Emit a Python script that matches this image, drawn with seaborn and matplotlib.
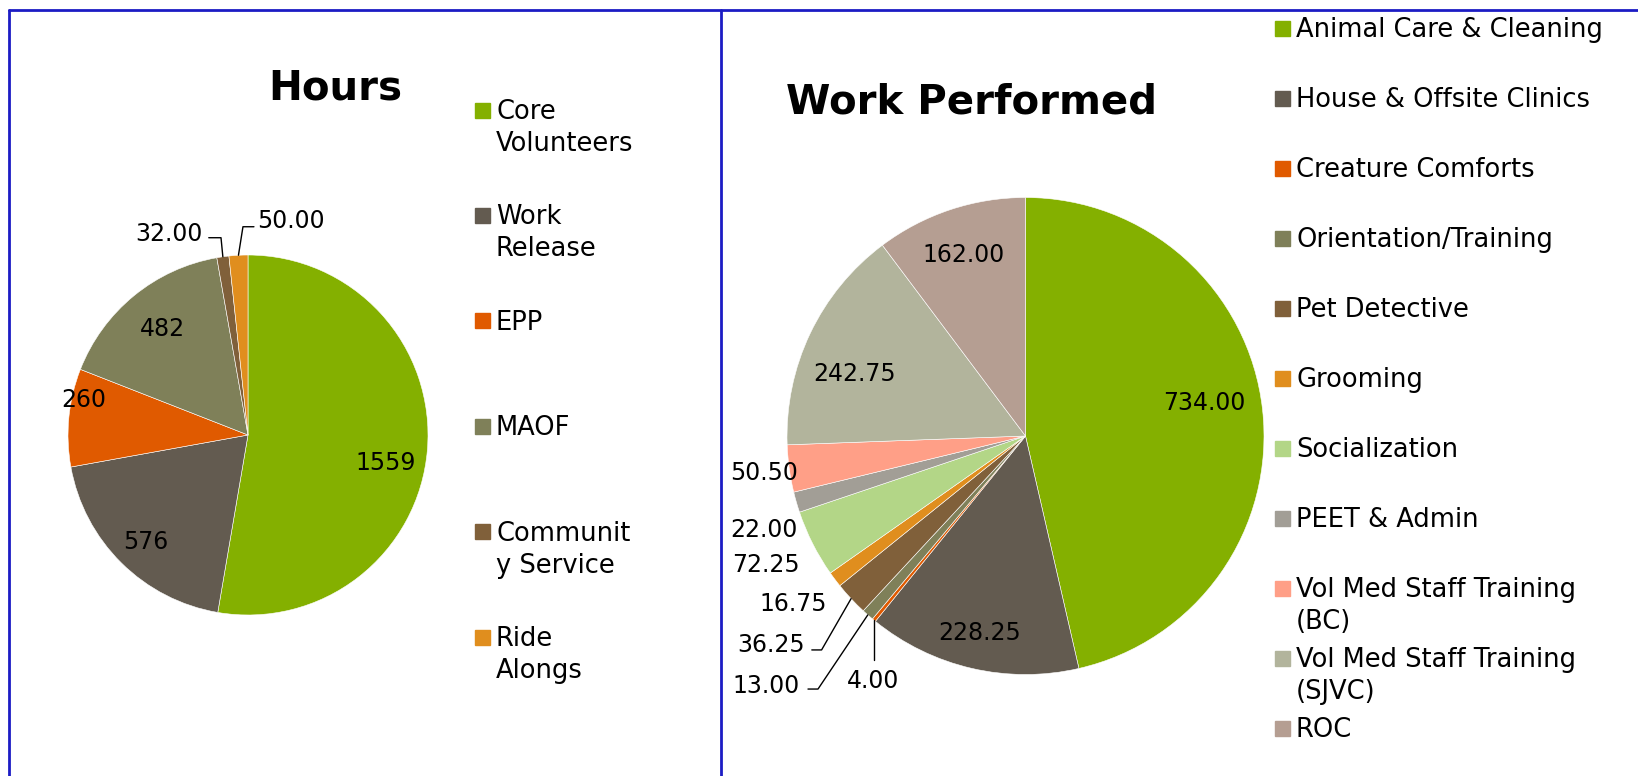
import matplotlib.pyplot as plt
import seaborn as sns
import numpy as np
from matplotlib.patches import Rectangle

# data
hours_labels = ['Core\nVolunteers', 'Work\nRelease', 'EPP', 'MAOF', 'Communit\ny Service', 'Ride\nAlongs']
hours_values = [1559, 576, 260, 482, 32, 50]
hours_text = ['1559', '576', '260', '482', '32.00', '50.00']

work_labels = ['Animal Care & Cleaning', 'House & Offsite Clinics', 'Creature Comforts',
               'Orientation/Training', 'Pet Detective', 'Grooming', 'Socialization',
               'PEET & Admin', 'Vol Med Staff Training\n(BC)', 'Vol Med Staff Training\n(SJVC)', 'ROC']
work_values = [734.00, 228.25, 4.00, 13.00, 36.25, 16.75, 72.25, 22.00, 50.50, 242.75, 162.00]

hours_colors = ['#84B000', '#635B50', '#E05A00', '#7F8059', '#80603A', '#E08E1E']
work_colors = ['#84B000', '#635B50', '#E05A00', '#7F8059', '#80603A', '#E08E1E',
               '#B3D687', '#A29E96', '#FF9F87', '#B2B49C', '#B59E92']

# label placement: ('in', distance, angle shift) or ('out', elbow, end, text pos, ha)
hours_place = [('in', 0.777, -5.8), ('in', 0.81, 0.4), ('in', 0.937, -7.4), ('in', 0.767, -0.8),
               ('out', (-0.15, 1.096), (-0.218, 1.096), (-0.25, 1.133), 'right'),
               ('out', (-0.028, 1.157), (0.033, 1.157), (0.05, 1.20), 'left')]
work_place = [('in', 0.764, 4.9), ('in', 0.836, -0.2),
              ('out', None, None, (-0.641, -1.015), 'center'),
              ('out', (-0.870, -1.061), (-0.912, -1.061), (-0.945, -1.036), 'right'),
              ('out', (-0.855, -0.897), (-0.896, -0.897), (-0.925, -0.864), 'right'),
              ('in', 1.196, -1.6), ('in', 1.211, -0.9), ('in', 1.161, 3.1),
              ('in', 1.107, -0.3), ('in', 0.767, 5.0), ('in', 0.813, 0.1)]

sns.set_theme(style="white")
plt.rcParams['font.family'] = ['DejaVu Sans']
plt.rcParams['text.color'] = 'black'

W, H = 1638, 776
fig = plt.figure(figsize=(W / 100, H / 100), dpi=100)

# overlay in pixel coords for frame and legends
ov = fig.add_axes([0, 0, 1, 1])
ov.set_xlim(0, W)
ov.set_ylim(H, 0)
ov.axis('off')

blue = '#1C1CC4'
ov.plot([9, W], [10, 10], color=blue, lw=2)
ov.plot([9, 9], [10, H], color=blue, lw=2)
ov.plot([721, 721], [10, H], color=blue, lw=2)


def draw_pie(cx, cy, r, values, colors, texts, place):
    ax = fig.add_axes([(cx - r) / W, (H - cy - r) / H, 2 * r / W, 2 * r / H])
    wedges, _ = ax.pie(values, colors=colors, startangle=90, counterclock=False, radius=1,
                       wedgeprops=dict(edgecolor='white', linewidth=0.4))
    ax.set_xlim(-1, 1)
    ax.set_ylim(-1, 1)
    ax.set_aspect('equal')
    ax.axis('off')
    for w, t, p in zip(wedges, texts, place):
        mid = np.deg2rad((w.theta1 + w.theta2) / 2)
        if p[0] == 'in':
            a = mid + np.deg2rad(p[2])
            ax.text(p[1] * np.cos(a), p[1] * np.sin(a), t, ha='center', va='center_baseline',
                    fontsize=17)
        else:
            ex, ey = np.cos(mid), np.sin(mid)
            if p[1] is None:
                ax.plot([ex, ex], [ey, p[3][1] + 0.075], color='black', lw=1, clip_on=False)
            else:
                ax.plot([ex, p[1][0], p[2][0]], [ey, p[1][1], p[2][1]], color='black', lw=1,
                        clip_on=False)
            ax.text(p[3][0], p[3][1], t, ha=p[4], va='center_baseline', fontsize=17)
    return ax


draw_pie(248, 435, 180, hours_values, hours_colors, hours_text, hours_place)
draw_pie(1025.5, 436, 238.5, work_values, work_colors, ['%.2f' % v for v in work_values], work_place)

# titles
ov.text(335, 100, 'Hours', ha='center', va='baseline', fontsize=29, fontweight='bold')
ov.text(972, 113, 'Work Performed', ha='center', va='baseline', fontsize=29, fontweight='bold')


def draw_legend(x, y0, step, labels, colors):
    for i, (lab, c) in enumerate(zip(labels, colors)):
        y = y0 + i * step
        ov.add_patch(Rectangle((x, y - 7.5), 15, 15, color=c))
        ov.text(x + 21, y - 11, lab, ha='left', va='top', fontsize=18.5, linespacing=1.3)


draw_legend(475, 110, 105.4, hours_labels, hours_colors)
draw_legend(1275, 28, 70, work_labels, work_colors)

fig.savefig('out.png', dpi=100)
